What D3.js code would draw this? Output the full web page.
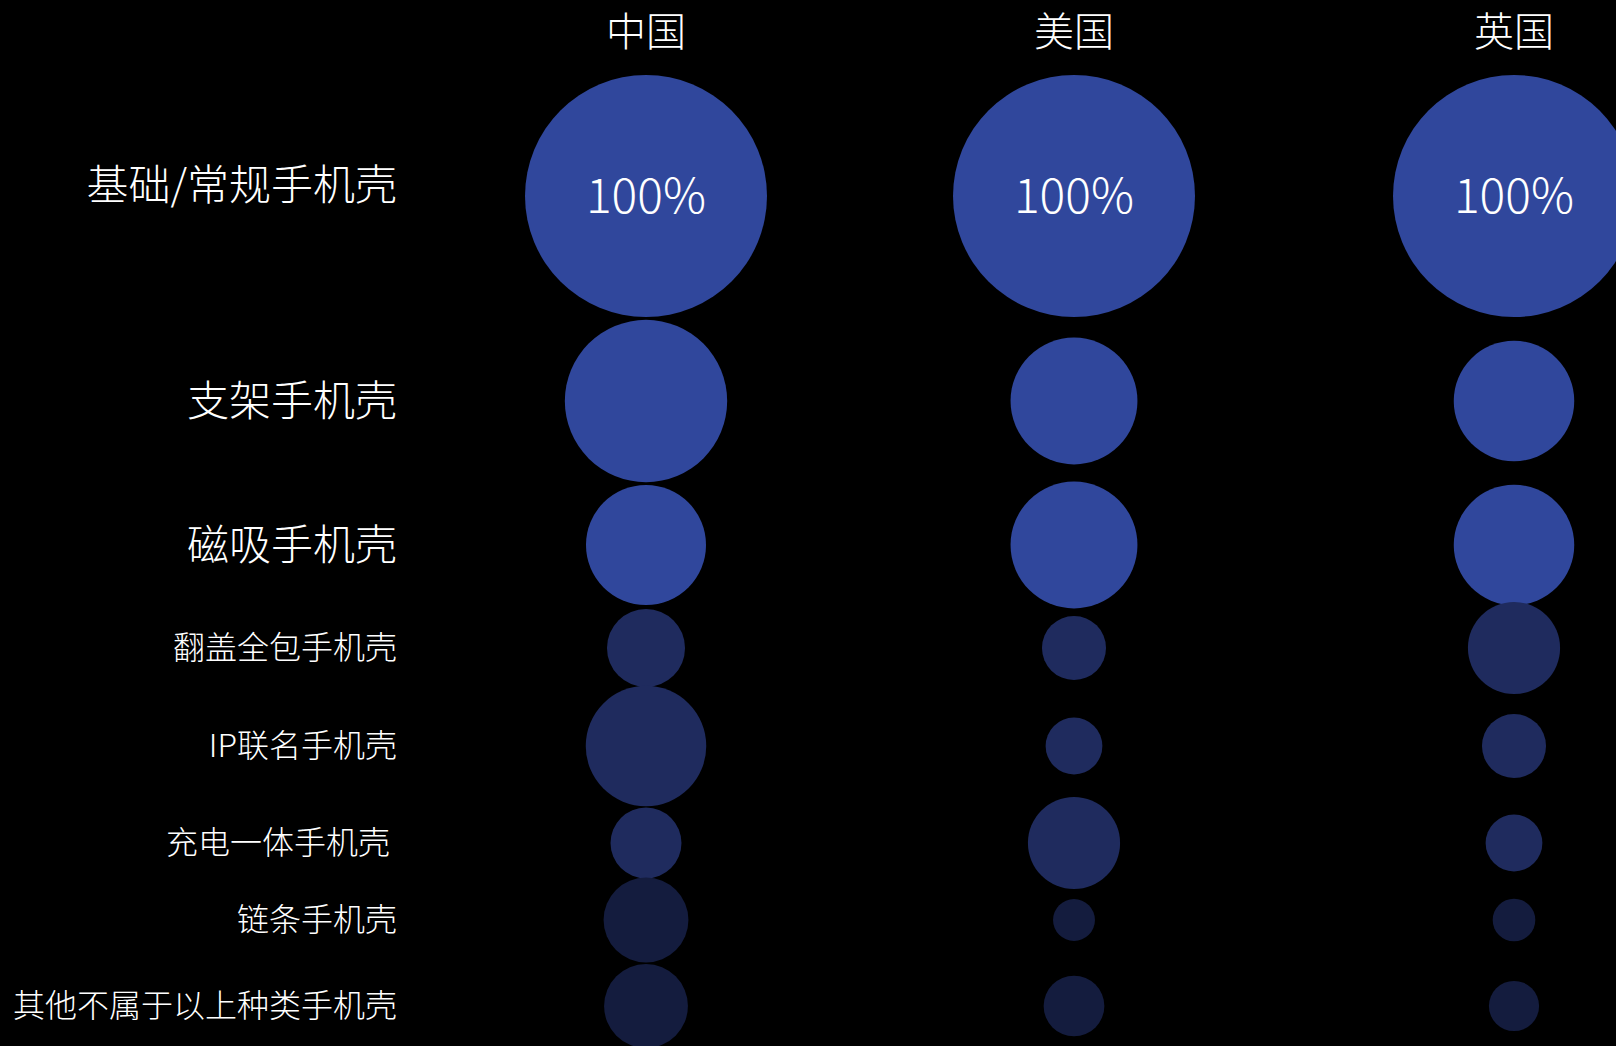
<!DOCTYPE html>
<html>
<head>
  <meta charset="utf-8">
  <title>手机壳类型对比</title>
  <style>
    html, body { margin: 0; padding: 0; background: #000; }
    text { font-family: "Noto Sans CJK SC", "Noto Sans", sans-serif; font-weight: 300; fill: #fff; white-space: pre; }
  </style>
  <script src="https://d3js.org/d3.v7.min.js"></script>
</head>
<body>
<svg width="1616" height="1046"></svg>
<script>
// data (share in %, circle area ~ value)
var countries = ["中国", "美国", "英国"];
var categories = ["基础/常规手机壳", "支架手机壳", "磁吸手机壳", "翻盖全包手机壳",
                  "IP联名手机壳", "充电一体手机壳 ", "链条手机壳", "其他不属于以上种类手机壳"];
var china = [100, 45, 24.6, 10.4, 24.8, 8.6, 12.3, 12];
var usa   = [100, 27.5, 27.5, 7, 5.5, 14.5, 3, 6.3];
var uk    = [100, 24.8, 24.8, 14.5, 7, 5.5, 3.1, 4.3];
var tier  = ["top", "top", "top", "mid", "mid", "mid", "low", "low"];
var series = [china, usa, uk];

var svg = d3.select("svg");

// columns and rows are not evenly spaced in the original layout
var x = d3.scaleOrdinal().domain(countries).range([646, 1074, 1514]);
var y = d3.scaleOrdinal().domain(categories)
          .range([196, 401, 545, 648, 746, 843, 920, 1006]);
var r = d3.scaleSqrt().domain([0, 100]).range([0, 121]);
var color = d3.scaleOrdinal().domain(["top", "mid", "low"])
              .range(["#30479c", "#1f2b5e", "#141c3e"]);

var cells = [];
series.forEach(function(vals, ci) {
  vals.forEach(function(v, ri) {
    cells.push({country: countries[ci], cat: categories[ri], value: v, tier: tier[ri]});
  });
});

svg.selectAll("circle")
   .data(cells)
   .enter().append("circle")
   .attr("cx", function(d) { return x(d.country); })
   .attr("cy", function(d) { return y(d.cat); })
   .attr("r", function(d) { return r(d.value); })
   .attr("fill", function(d) { return color(d.tier); });

// percentage only on the full circles
svg.selectAll(".pct")
   .data(cells.filter(function(d) { return d.value === 100; }))
   .enter().append("text")
   .attr("class", "pct")
   .attr("x", function(d) { return x(d.country); })
   .attr("y", function(d) { return y(d.cat); })
   .attr("dy", "0.35em")
   .attr("text-anchor", "middle")
   .attr("font-size", "48px")
   .text(function(d) { return d.value + "%"; });

// column headers
svg.selectAll(".country")
   .data(countries)
   .enter().append("text")
   .attr("class", "country")
   .attr("x", function(d) { return x(d); })
   .attr("y", 32)
   .attr("dy", "0.35em")
   .attr("text-anchor", "middle")
   .attr("font-size", "40px")
   .text(function(d) { return d; });

// row labels (first one sits a bit above its circle)
svg.selectAll(".cat")
   .data(categories)
   .enter().append("text")
   .attr("class", "cat")
   .attr("x", 397)
   .attr("y", function(d, i) { return y(d) - (i === 0 ? 11 : 0); })
   .attr("dy", "0.35em")
   .attr("text-anchor", "end")
   .attr("font-size", function(d, i) { return i < 3 ? "42px" : "32px"; })
   .text(function(d) { return d; });
</script>
</body>
</html>
